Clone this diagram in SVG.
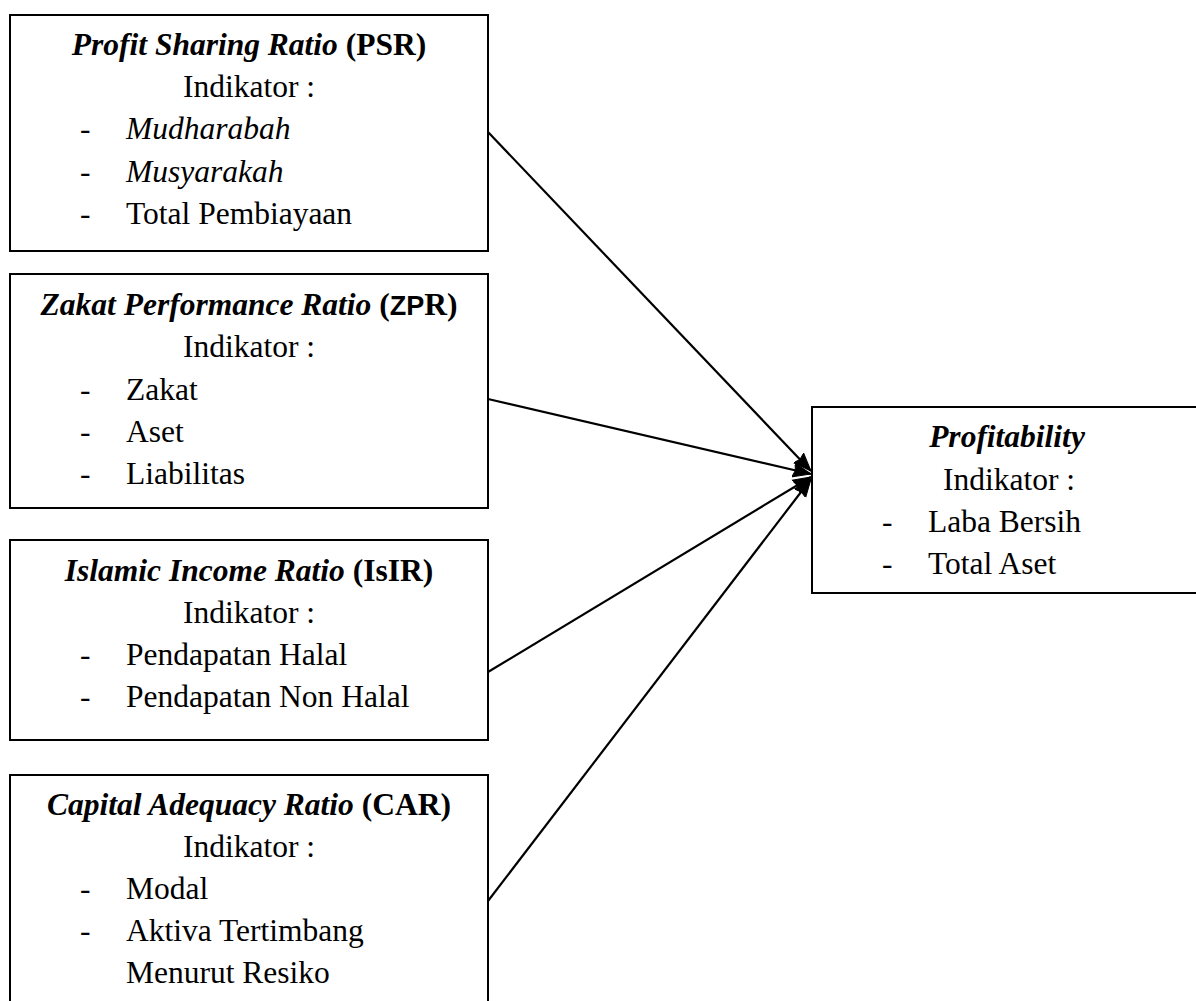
<svg xmlns="http://www.w3.org/2000/svg" width="1196" height="1001" viewBox="0 0 1196 1001">
<style>
.box{fill:#fff;stroke:#000;stroke-width:2}
text{font-family:"Liberation Serif","Times New Roman",serif;font-size:31.5px;fill:#000}
.t{text-anchor:middle}
.bi{font-weight:bold;font-style:italic}
.b{font-weight:bold}
.i{font-style:italic}
.sans{font-family:"Liberation Sans",Arial,sans-serif;font-size:27px}
.conn line{stroke:#000;stroke-width:2.2}
</style>
<defs>
<marker id="ah" markerUnits="userSpaceOnUse" markerWidth="20" markerHeight="18" refX="18" refY="9" orient="auto">
<path d="M0,2 L18,9 L0,16 L2,9 Z" fill="#000" stroke="#000" stroke-width="1"/>
</marker>
</defs>
<rect width="1196" height="1001" fill="#fff"/>
<g id="psr">
<rect class="box" x="10" y="15" width="478" height="236"/>
<text class="t" x="249" y="55"><tspan class="bi">Profit Sharing Ratio</tspan><tspan class="b"> (PSR)</tspan></text>
<text class="t" x="249" y="97">Indikator :</text>
<text x="80" y="139">-</text><text class="i" x="126" y="139">Mudharabah</text>
<text x="80" y="182">-</text><text class="i" x="126" y="182">Musyarakah</text>
<text x="80" y="224">-</text><text x="126" y="224">Total Pembiayaan</text>
</g>
<g id="zpr">
<rect class="box" x="10" y="274" width="478" height="234"/>
<text class="t" x="249" y="315"><tspan class="bi">Zakat Performance Ratio</tspan><tspan class="b"> (</tspan><tspan class="b sans">ZP</tspan><tspan class="b">R)</tspan></text>
<text class="t" x="249" y="357">Indikator :</text>
<text x="80" y="400">-</text><text x="126" y="400">Zakat</text>
<text x="80" y="442">-</text><text x="126" y="442">Aset</text>
<text x="80" y="484">-</text><text x="126" y="484">Liabilitas</text>
</g>
<g id="isir">
<rect class="box" x="10" y="540" width="478" height="200"/>
<text class="t" x="249" y="581"><tspan class="bi">Islamic Income Ratio</tspan><tspan class="b"> (IsIR)</tspan></text>
<text class="t" x="249" y="623">Indikator :</text>
<text x="80" y="665">-</text><text x="126" y="665">Pendapatan Halal</text>
<text x="80" y="707">-</text><text x="126" y="707">Pendapatan Non Halal</text>
</g>
<g id="car">
<rect class="box" x="10" y="775" width="478" height="240"/>
<text class="t" x="249" y="815"><tspan class="bi">Capital Adequacy Ratio</tspan><tspan class="b"> (CAR)</tspan></text>
<text class="t" x="249" y="857">Indikator :</text>
<text x="80" y="899">-</text><text x="126" y="899">Modal</text>
<text x="80" y="941">-</text><text x="126" y="941">Aktiva Tertimbang</text>
<text x="126" y="983">Menurut Resiko</text>
</g>
<g id="profitability">
<rect class="box" x="812" y="407" width="400" height="186"/>
<text class="t bi" x="1007" y="447">Profitability</text>
<text class="t" x="1009" y="490">Indikator :</text>
<text x="882" y="532">-</text><text x="928" y="532">Laba Bersih</text>
<text x="882" y="574">-</text><text x="928" y="574">Total Aset</text>
</g>
<g class="conn">
<line x1="488" y1="132" x2="811" y2="471" marker-end="url(#ah)"/>
<line x1="488" y1="399" x2="811" y2="474" marker-end="url(#ah)"/>
<line x1="488" y1="672" x2="811" y2="477" marker-end="url(#ah)"/>
<line x1="488" y1="901" x2="811" y2="479" marker-end="url(#ah)"/>
</g>
</svg>
